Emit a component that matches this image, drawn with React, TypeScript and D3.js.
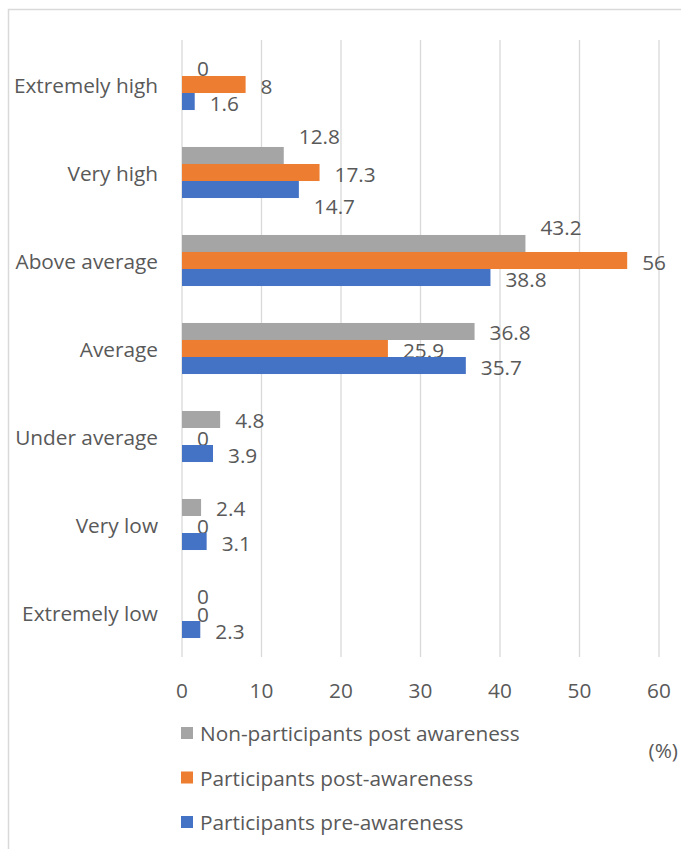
import React from "react";
import * as d3 from "d3";

const categories = [
  "Extremely high",
  "Very high",
  "Above average",
  "Average",
  "Under average",
  "Very low",
  "Extremely low",
];
const seriesNames = [
  "Non-participants post awareness",
  "Participants post-awareness",
  "Participants pre-awareness",
];
const nonParticipantsPost = [0, 12.8, 43.2, 36.8, 4.8, 2.4, 0];
const participantsPost = [8, 17.3, 56, 25.9, 0, 0, 0];
const participantsPre = [1.6, 14.7, 38.8, 35.7, 3.9, 3.1, 2.3];
const xTicks = [0, 10, 20, 30, 40, 50, 60];
const unitLabel = "(%)";

// style / layout
const COLORS = ["#A5A5A5", "#ED7D31", "#4472C4"];
const TEXT = "#595959";
const GRID = "#D9D9D9";
const FONT = "'Open Sans', sans-serif";
const FS = 20.8;
// manual label nudges (series index, category index) -> dy in px
const LABEL_NUDGE: Record<string, number> = { "0-1": -20, "2-1": 15, "0-2": -17 };

export default function App() {
  const W = 681;
  const H = 849;
  const x0 = 182;
  const x1 = 659;
  const top = 40.5;
  const bottom = 656.5;

  const series = [nonParticipantsPost, participantsPost, participantsPre];

  const x = d3.scaleLinear().domain([0, 60]).range([x0, x1]);
  const y = d3
    .scaleBand<string>()
    .domain(categories)
    .range([top, bottom])
    .paddingInner(0.42)
    .paddingOuter(0.21);
  const ys = d3
    .scaleBand<number>()
    .domain([0, 1, 2])
    .range([0, y.bandwidth()]);

  const fmt = (v: number) => String(v);

  return (
    <svg
      width={W}
      height={H}
      style={{ position: "absolute", left: 0, top: 0, display: "block", background: "#fff" }}
      fontFamily={FONT}
    >
      <rect x={8.5} y={9.5} width={W + 10} height={H + 10} fill="#fff" stroke={GRID} strokeWidth={1.5} />
      {xTicks.map((t) => (
        <line key={t} x1={x(t)} x2={x(t)} y1={top - 0.5} y2={bottom + 0.5} stroke={GRID} strokeWidth={1.3} />
      ))}
      {categories.map((c, ci) =>
        series.map((vals, si) => {
          const v = vals[ci];
          const by = (y(c) as number) + (ys(si) as number);
          const bh = ys.bandwidth();
          const nudge = LABEL_NUDGE[`${si}-${ci}`] || 0;
          return (
            <g key={`${ci}-${si}`}>
              {v > 0 && (
                <rect x={x(0)} y={by} width={x(v) - x(0)} height={bh} fill={COLORS[si]} />
              )}
              <text
                x={x(v) + 15}
                y={by + bh / 2 + 1 + nudge}
                fill={TEXT}
                fontSize={FS}
                dominantBaseline="central"
              >
                {fmt(v)}
              </text>
            </g>
          );
        })
      )}
      {categories.map((c) => (
        <text
          key={c}
          x={158}
          y={(y(c) as number) + y.bandwidth() / 2}
          textAnchor="end"
          dominantBaseline="central"
          fill={TEXT}
          fontSize={FS}
        >
          {c}
        </text>
      ))}
      {xTicks.map((t) => (
        <text key={t} x={x(t)} y={690} textAnchor="middle" dominantBaseline="central" fill={TEXT} fontSize={FS}>
          {t}
        </text>
      ))}
      {seriesNames.map((n, i) => (
        <g key={n} transform={`translate(181, ${733 + i * 44.5})`}>
          <rect x={0} y={-6} width={12} height={12} fill={COLORS[i]} />
          <text x={19} y={0} dominantBaseline="central" fill={TEXT} fontSize={FS}>
            {n}
          </text>
        </g>
      ))}
      <text x={678} y={750} textAnchor="end" dominantBaseline="central" fill={TEXT} fontSize={FS}>
        {unitLabel}
      </text>
    </svg>
  );
}
